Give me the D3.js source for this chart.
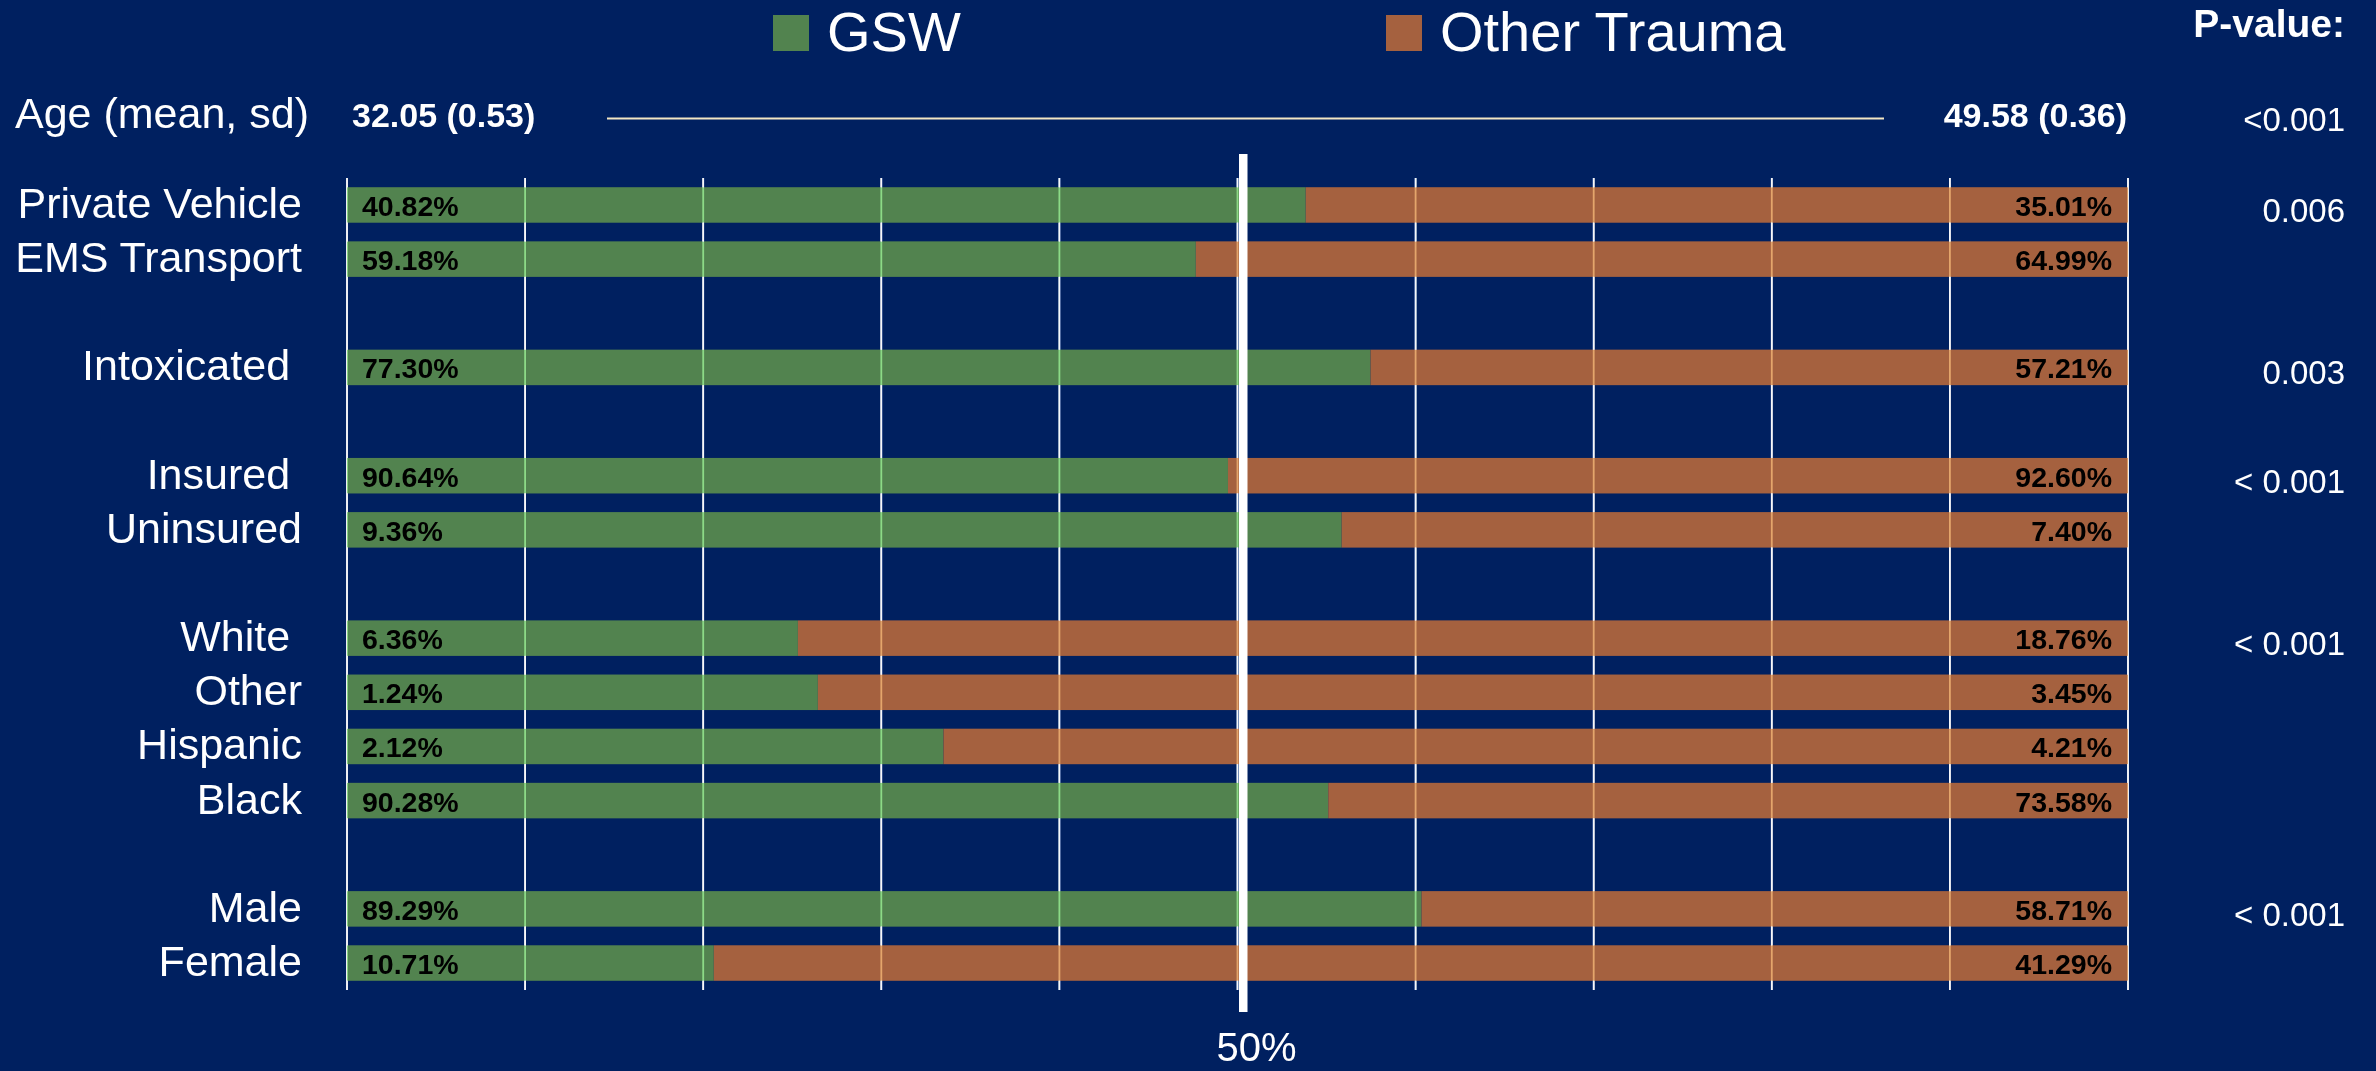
<!DOCTYPE html>
<html>
<head>
<meta charset="utf-8">
<script src="https://cdn.jsdelivr.net/npm/d3@7"></script>
<style>
  body { margin: 0; background: #002060; }
  svg text { font-family: "Liberation Sans", Arial, sans-serif; white-space: pre; }
</style>
</head>
<body>
<svg id="chart" width="2376" height="1071"></svg>
<script>
// Rows, grouped the way the slide groups them (blank row between groups)
var groups = [
	["Private Vehicle", "EMS Transport"],
	["Intoxicated "],
	["Insured ", "Uninsured"],
	["White ", "Other", "Hispanic", "Black"],
	["Male", "Female"]
];
var gswValues   = [40.82, 59.18, 77.30, 90.64, 9.36, 6.36, 1.24, 2.12, 90.28, 89.29, 10.71];
var otherValues = [35.01, 64.99, 57.21, 92.60, 7.40, 18.76, 3.45, 4.21, 73.58, 58.71, 41.29];
// one p-value per group, shown next to the first row of the group
var pValues = ["0.006", "0.003", "< 0.001", "< 0.001", "< 0.001"];

var ageLabel = "Age (mean, sd)";
var ageGsw = "32.05 (0.53)";
var ageOther = "49.58 (0.36)";
var agePValue = "<0.001";

var seriesNames = ["GSW", "Other Trauma"];
var colors = ["#52834f", "#a5613f"];

var W = 2376, H = 1071;
var svg = d3.select("#chart");
svg.append("rect").attr("width", W).attr("height", H).attr("fill", "#002060");

// flatten groups into categories, with spacer slots between groups
var categories = [], slots = [], firstOfGroup = [];
groups.forEach(function(g, i) {
	if (i > 0) slots.push("gap" + i);
	firstOfGroup.push(g[0]);
	g.forEach(function(c) { categories.push(c); slots.push(c); });
});

var data = categories.map(function(c, i) {
	return { cat: c, gsw: gswValues[i], other: otherValues[i] };
});

var x = d3.scaleLinear().domain([0, 1]).range([347, 2128]);
var y = d3.scaleBand().domain(slots).range([178, 990])
	.paddingInner(0.344).paddingOuter(0.17);

var stacked = d3.stack().keys(["gsw", "other"]).offset(d3.stackOffsetExpand)(data);

// gridlines beneath the bars
var ticks = x.ticks(10);
var grid = svg.append("g");
grid.selectAll("line").data(ticks).enter().append("line")
	.attr("x1", function(d) { return x(d); })
	.attr("x2", function(d) { return x(d); })
	.attr("y1", y.range()[0]).attr("y2", y.range()[1])
	.attr("stroke", "#e6e6ee").attr("stroke-width", 1.8);

// bars
svg.append("g").selectAll("g").data(stacked).enter().append("g")
	.attr("fill", function(d, i) { return colors[i]; })
	.selectAll("rect").data(function(d) { return d; }).enter().append("rect")
	.attr("x", function(d) { return x(d[0]); })
	.attr("width", function(d) { return x(d[1]) - x(d[0]); })
	.attr("y", function(d) { return y(d.data.cat); })
	.attr("height", y.bandwidth());

// gridlines showing through the bars (lighter tint of the bar colour)
svg.append("g").style("mix-blend-mode", "overlay").attr("opacity", 0.7)
	.selectAll("line").data(ticks).enter().append("line")
	.attr("x1", function(d) { return x(d); })
	.attr("x2", function(d) { return x(d); })
	.attr("y1", y.range()[0]).attr("y2", y.range()[1])
	.attr("stroke", "#ffffff").attr("stroke-width", 1.8);

// 50% marker
svg.append("rect")
	.attr("x", x(0.5) + 1.5).attr("y", 154)
	.attr("width", 8.5).attr("height", 858)
	.attr("fill", "#ffffff");
svg.append("text")
	.attr("x", x(0.5) + 19).attr("y", 1061)
	.attr("text-anchor", "middle").attr("font-size", 40).attr("fill", "#fff")
	.text("50%");

var mid = function(c) { return y(c) + y.bandwidth() / 2; };

// row labels
svg.append("g").selectAll("text").data(categories).enter().append("text")
	.attr("x", 302).attr("y", function(d) { return mid(d) + 13; })
	.attr("text-anchor", "end").attr("font-size", 43).attr("fill", "#fff")
	.text(function(d) { return d; });

// data labels
var labels = svg.append("g").attr("font-size", 28.5).attr("font-weight", "bold").attr("fill", "#000");
labels.selectAll("text.g").data(data).enter().append("text").attr("class", "g")
	.attr("x", x(0) + 15).attr("y", function(d) { return mid(d.cat) + 11; })
	.text(function(d) { return d.gsw.toFixed(2) + "%"; });
labels.selectAll("text.o").data(data).enter().append("text").attr("class", "o")
	.attr("x", x(1) - 16).attr("y", function(d) { return mid(d.cat) + 11; })
	.attr("text-anchor", "end")
	.text(function(d) { return d.other.toFixed(2) + "%"; });

// p-values
svg.append("text")
	.attr("x", 2345).attr("y", 37).attr("text-anchor", "end")
	.attr("font-size", 39).attr("font-weight", "bold").attr("fill", "#fff")
	.text("P-value:");
svg.append("g").selectAll("text").data(pValues).enter().append("text")
	.attr("x", 2345).attr("y", function(d, i) { return mid(firstOfGroup[i]) + 17; })
	.attr("text-anchor", "end").attr("font-size", 33).attr("fill", "#fff")
	.text(function(d) { return d; });

// age row
svg.append("text").attr("x", 15).attr("y", 128)
	.attr("font-size", 43).attr("fill", "#fff").text(ageLabel);
svg.append("text").attr("x", 352).attr("y", 127)
	.attr("font-size", 34).attr("font-weight", "bold").attr("fill", "#fff").text(ageGsw);
svg.append("text").attr("x", 2127).attr("y", 127).attr("text-anchor", "end")
	.attr("font-size", 34).attr("font-weight", "bold").attr("fill", "#fff").text(ageOther);
svg.append("line").attr("x1", 607).attr("x2", 1884).attr("y1", 118.5).attr("y2", 118.5)
	.attr("stroke", "#f3e6c3").attr("stroke-width", 1.8);
svg.append("text").attr("x", 2345).attr("y", 131).attr("text-anchor", "end")
	.attr("font-size", 33).attr("fill", "#fff").text(agePValue);

// legend
var legendX = [773, 1386];
var legend = svg.append("g").selectAll("g").data(seriesNames).enter().append("g")
	.attr("transform", function(d, i) { return "translate(" + legendX[i] + ",15)"; });
legend.append("rect").attr("width", 36).attr("height", 36)
	.attr("fill", function(d, i) { return colors[i]; });
legend.append("text").attr("x", 54).attr("y", 36)
	.attr("font-size", 56).attr("fill", "#fff")
	.text(function(d) { return d; });
</script>
</body>
</html>
